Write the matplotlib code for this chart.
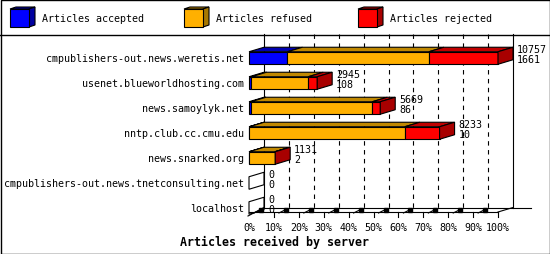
import matplotlib
matplotlib.use("Agg")
import matplotlib.pyplot as plt
from matplotlib.patches import Rectangle, Polygon

# data
servers = ["cmpublishers-out.news.weretis.net", "usenet.blueworldhosting.com",
           "news.samoylyk.net", "nntp.club.cc.cmu.edu", "news.snarked.org",
           "cmpublishers-out.news.tnetconsulting.net", "localhost"]
accepted = [1661, 108, 86, 10, 2, 0, 0]
refused = [6110, 2447, 5238, 6717, 1114, 0, 0]
rejected = [2986, 390, 345, 1506, 15, 0, 0]
totals = [10757, 2945, 5669, 8233, 1131, 0, 0]

series_names = ["Articles accepted", "Articles refused", "Articles rejected"]
tick_values = list(range(0, 101, 10))
tick_labels = [f"{t}%" for t in tick_values]

colors = ["#0000ff", "#ffb000", "#ff0000"]
top_colors = ["#0000b0", "#c08800", "#c00000"]
side_colors = ["#0000a0", "#a87800", "#a80000"]

W, H = 550, 255
FONT = "DejaVu Sans Mono"
FS = 7.2
LW = 0.8

XPX = 100 / 249          # percent per pixel
YPX = 1 / 25             # category per pixel
DX = 15 * XPX            # depth offset
DY = -4.5 * YPX
HALF = 0.25
Y_BOT = 6.16
Y_TOP = -0.96

fig = plt.figure(figsize=(W / 100, H / 100), dpi=100)

# overlay in pixel coords for frame and legend
ov = fig.add_axes([0, 0, 1, 1])
ov.set_xlim(0, W)
ov.set_ylim(H, 0)
ov.axis("off")
ov.add_patch(Rectangle((0.5, 0.5), W - 1, H - 1, fill=False, ec="black", lw=1))
ov.plot([0, W], [35.5, 35.5], color="black", lw=1)

for k, (name, x0) in enumerate(zip(series_names, [10, 184, 358])):
    ov.add_patch(Polygon([(x0, 10), (x0 + 6, 8), (x0 + 25, 8), (x0 + 19, 10)],
                         fc=top_colors[k], ec="black", lw=LW))
    ov.add_patch(Polygon([(x0 + 19, 10), (x0 + 25, 8), (x0 + 25, 26), (x0 + 19, 28)],
                         fc=side_colors[k], ec="black", lw=LW))
    ov.add_patch(Rectangle((x0, 10), 19, 18, fc=colors[k], ec="black", lw=LW))
    ov.text(x0 + 32, 19, name, fontsize=FS, family=FONT, va="center", ha="left")

# main plot area
ax = fig.add_axes([249 / W, 1 - 213 / H, 264 / W, 178 / H])
ax.set_xlim(0, 264 * XPX)
ax.set_ylim(Y_BOT, Y_TOP)
ax.axis("off")

floor = Y_BOT + DY

# back wall and grid
ax.plot([DX, DX], [Y_TOP, floor], color="black", lw=LW, zorder=1, clip_on=False)
ax.plot([100 + DX, 100 + DX], [Y_TOP, floor], color="black", lw=LW, zorder=1, clip_on=False)
for t in tick_values[1:-1]:
    ax.plot([t + DX, t + DX], [Y_TOP, floor], color="black", lw=LW,
            ls=(0, (4, 4)), zorder=1, clip_on=False)
ax.plot([DX, 100 + DX + 18 * XPX], [floor, floor], color="black", lw=LW, zorder=1, clip_on=False)

# floor front edge
ax.plot([0, 100], [Y_BOT, Y_BOT], color="black", lw=LW, zorder=1, clip_on=False)
ax.plot([100, 100 + DX], [Y_BOT, floor], color="black", lw=LW, zorder=1, clip_on=False)
ax.plot([-1 * XPX, DX], [Y_BOT + 4 * YPX, floor], color="black", lw=LW, zorder=1, clip_on=False)

for t, lab in zip(tick_values, tick_labels):
    if t > 0:
        ax.plot([t, t], [Y_BOT, Y_BOT + 5 * YPX], color="black", lw=LW, clip_on=False)
    if t < 100:
        ax.plot([t + 5 * XPX, t + 10 * XPX], [Y_BOT + 1 * YPX, Y_BOT - 1.5 * YPX],
                color="black", lw=LW, clip_on=False)
        ax.plot([t + 12 * XPX], [Y_BOT - 2 * YPX], marker="s", ms=2.5, color="black",
                clip_on=False)
    ax.text(t, Y_BOT + 15 * YPX, lab, fontsize=FS, family=FONT, ha="center", va="center")

scale = 100 / max(totals)

for i, name in enumerate(servers):
    top = i - HALF
    bot = i + HALF
    segs = [accepted[i], refused[i], rejected[i]]
    left = 0
    last = None
    for k, v in enumerate(segs):
        w = v * scale
        if w <= 0:
            continue
        ax.add_patch(Polygon([(left, top), (left + w, top), (left + w + DX, top + DY),
                              (left + DX, top + DY)],
                             fc=top_colors[k], ec="black", lw=LW, zorder=3, clip_on=False))
        ax.add_patch(Rectangle((left, top), w, bot - top, fc=colors[k], ec="black",
                               lw=LW, zorder=3, clip_on=False))
        left += w
        last = k
    side = [(left, top), (left + DX, top + DY), (left + DX, bot + DY), (left, bot)]
    if last is not None:
        ax.add_patch(Polygon(side, fc=side_colors[last], ec="black", lw=LW, zorder=3,
                             clip_on=False))
    else:
        ax.add_patch(Polygon(side, fc="none", ec="black", lw=LW, zorder=3, clip_on=False))

    tx = left + DX + 4 * XPX
    ax.text(tx, i - 9 * YPX, f"{totals[i]}", fontsize=FS, family=FONT, ha="left", va="center")
    ax.text(tx, i + 1.5 * YPX, f"{accepted[i]}", fontsize=FS, family=FONT, ha="left", va="center")
    ax.text(-5 * XPX, i, name, fontsize=FS, family=FONT, ha="right", va="center")

fig.text(0.5, 1 - 242 / H, "Articles received by server", fontsize=8.4, family=FONT,
         fontweight="bold", ha="center", va="center")

fig.savefig("out.png", dpi=100)
